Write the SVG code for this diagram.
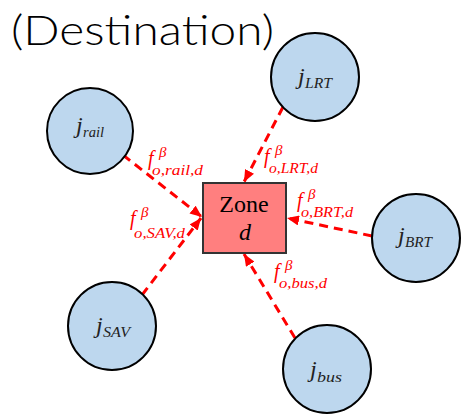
<svg xmlns="http://www.w3.org/2000/svg" width="462" height="414" viewBox="0 0 462 414">
  <defs>
    <marker id="arrow" viewBox="0 0 12 10" refX="12" refY="5" markerWidth="12" markerHeight="10" markerUnits="userSpaceOnUse" orient="auto">
      <path d="M0,0 L12,5 L0,10 Z" fill="#ff0000"/>
    </marker>
    <style>
      .title { font-family: "Lato", "Liberation Sans", sans-serif; font-size: 42px; font-weight: 300; fill: #000; }
      .node circle { fill: #bdd7ee; stroke: #000; stroke-width: 2; }
      .zone rect { fill: #ff7f7f; stroke: #333; stroke-width: 2; }
      .zt { font-family: "Liberation Serif", serif; font-size: 24px; fill: #000; }
      .j { font-family: "Liberation Serif", serif; font-style: italic; font-size: 24px; fill: #222; }
      .js { font-family: "Liberation Serif", serif; font-style: italic; font-size: 15px; fill: #222; }
      .edge { stroke: #ff0000; stroke-width: 3; stroke-dasharray: 9 6; fill: none; marker-end: url(#arrow); }
      .f { font-family: "Liberation Serif", serif; font-style: italic; font-size: 20px; fill: #ff0000; }
      .fs { font-family: "Liberation Serif", serif; font-style: italic; font-size: 15px; fill: #ff0000; }
    </style>
  </defs>

  <rect width="462" height="414" fill="#fff"/>

  <text class="title" x="11" y="45" textLength="263" lengthAdjust="spacingAndGlyphs">(Destination)</text>

  <!-- flows into the destination zone -->
  <g id="connectors">
    <line class="edge" x1="123" y1="155" x2="202" y2="217"/>
    <line class="edge" x1="283" y1="107" x2="244" y2="182"/>
    <line class="edge" x1="372" y1="236" x2="287" y2="218"/>
    <line class="edge" x1="142" y1="295" x2="201" y2="218"/>
    <line class="edge" x1="295" y1="338" x2="244" y2="254"/>
  </g>

  <!-- flow labels: f with superscript beta and subscript o,mode,d -->
  <g id="flow-labels">
    <text class="f" x="148" y="165">f</text>
    <text class="fs" x="159" y="157">β</text>
    <text class="fs" x="152" y="175" textLength="51" lengthAdjust="spacingAndGlyphs">o,rail,d</text>

    <text class="f" x="264" y="163">f</text>
    <text class="fs" x="275" y="155">β</text>
    <text class="fs" x="269" y="173" textLength="49" lengthAdjust="spacingAndGlyphs">o,LRT,d</text>

    <text class="f" x="297" y="207">f</text>
    <text class="fs" x="308" y="199">β</text>
    <text class="fs" x="301" y="217" textLength="52" lengthAdjust="spacingAndGlyphs">o,BRT,d</text>

    <text class="f" x="130" y="225">f</text>
    <text class="fs" x="141" y="217">β</text>
    <text class="fs" x="134" y="238" textLength="51" lengthAdjust="spacingAndGlyphs">o,SAV,d</text>

    <text class="f" x="274" y="278">f</text>
    <text class="fs" x="285" y="270">β</text>
    <text class="fs" x="279" y="288" textLength="48" lengthAdjust="spacingAndGlyphs">o,bus,d</text>
  </g>

  <g id="zone-d" class="zone">
    <rect x="203" y="183" width="83" height="70"/>
    <text class="zt" x="244" y="212" text-anchor="middle">Zone</text>
    <text class="zt" x="245" y="240" text-anchor="middle" font-style="italic">d</text>
  </g>

  <g id="j-rail" class="node">
    <circle cx="90" cy="131" r="43"/>
    <text class="j" x="76" y="133">j</text>
    <text class="js" x="83" y="137" textLength="21" lengthAdjust="spacingAndGlyphs">rail</text>
  </g>

  <g id="j-lrt" class="node">
    <circle cx="315" cy="77" r="44"/>
    <text class="j" x="298" y="84">j</text>
    <text class="js" x="305" y="88" textLength="27" lengthAdjust="spacingAndGlyphs">LRT</text>
  </g>

  <g id="j-brt" class="node">
    <circle cx="416" cy="238" r="44"/>
    <text class="j" x="398" y="243">j</text>
    <text class="js" x="405" y="247" textLength="27" lengthAdjust="spacingAndGlyphs">BRT</text>
  </g>

  <g id="j-sav" class="node">
    <circle cx="112" cy="326" r="44"/>
    <text class="j" x="96" y="333">j</text>
    <text class="js" x="103" y="337" textLength="27" lengthAdjust="spacingAndGlyphs">SAV</text>
  </g>

  <g id="j-bus" class="node">
    <circle cx="327" cy="369" r="44"/>
    <text class="j" x="310" y="377">j</text>
    <text class="js" x="317" y="382" textLength="25" lengthAdjust="spacingAndGlyphs">bus</text>
  </g>
</svg>
